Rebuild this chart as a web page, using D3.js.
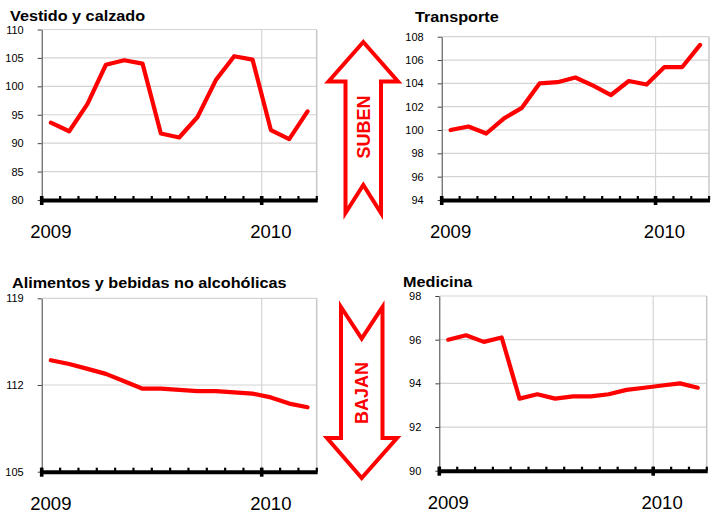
<!DOCTYPE html>
<html>
<head>
<meta charset="utf-8">
<script src="https://d3js.org/d3.v7.min.js"></script>
<style>
  body { margin: 0; background: #fff; }
  svg text { font-family: Arial, "Liberation Sans", sans-serif; }
</style>
</head>
<body>
<script>
// months on every panel, Jan 2009 - Mar 2010
var months = ["2009-01", "2009-02", "2009-03", "2009-04", "2009-05", "2009-06", "2009-07",
              "2009-08", "2009-09", "2009-10", "2009-11", "2009-12", "2010-01", "2010-02", "2010-03"];
var yearStarts = ["2009-01", "2010-01"];
var yearLabels = ["2009", "2010"];

// index values
var vestido    = [93.6, 92.1, 96.9, 103.8, 104.6, 104.0, 91.7, 91.0, 94.6, 101.1, 105.3, 104.7, 92.3, 90.7, 95.6];
var transporte = [100.0, 100.3, 99.7, 101.0, 101.9, 104.0, 104.1, 104.5, 103.8, 103.0, 104.2, 103.9, 105.4, 105.4, 107.3];
var alimentos  = [114.0, 113.7, 113.3, 112.9, 112.3, 111.7, 111.7, 111.6, 111.5, 111.5, 111.4, 111.3, 111.0, 110.5, 110.2];
var medicina   = [96.0, 96.2, 95.9, 96.1, 93.3, 93.5, 93.3, 93.4, 93.4, 93.5, 93.7, 93.8, 93.9, 94.0, 93.8];

// y tick labels
var vestidoTicks    = [80, 85, 90, 95, 100, 105, 110];
var transporteTicks = [94, 96, 98, 100, 102, 104, 106, 108];
var alimentosTicks  = [105, 112, 119];
var medicinaTicks   = [90, 92, 94, 96, 98];

var titles = ["Vestido y calzado", "Transporte", "Alimentos y bebidas no alcohólicas", "Medicina"];
var arrowLabels = ["SUBEN", "BAJAN"];

var svg = d3.select("body").append("svg").attr("width", 711).attr("height", 513);

// panel layout
var panels = [
    {title: titles[0], values: vestido,    ticks: vestidoTicks,    left: 41.7,  right: 316.7, top: 29.5,  bottom: 200,   tx: 10,  ty: 21},
    {title: titles[1], values: transporte, ticks: transporteTicks, left: 441.7, right: 709,   top: 36.7,  bottom: 200,   tx: 415, ty: 22},
    {title: titles[2], values: alimentos,  ticks: alimentosTicks,  left: 41.7,  right: 316.7, top: 298.3, bottom: 471.7, tx: 12,  ty: 288},
    {title: titles[3], values: medicina,   ticks: medicinaTicks,   left: 439.3, right: 706.7, top: 296,   bottom: 470.7, tx: 403, ty: 287}
];

function drawPanel(c) {
    var x = d3.scaleBand().domain(months).range([c.left, c.right]);
    var y = d3.scaleLinear().domain(d3.extent(c.ticks)).range([c.bottom, c.top]);
    var bw = x.bandwidth();
    var g = svg.append("g");

    // grey grid: horizontal lines, year start and right border
    g.selectAll(".hgrid").data(c.ticks.slice(1)).enter().append("line")
        .attr("x1", c.left).attr("x2", c.right)
        .attr("y1", d => y(d)).attr("y2", d => y(d))
        .style("stroke", "#d4d4d4").style("stroke-width", 1.2);
    g.selectAll(".vgrid").data(yearStarts.slice(1)).enter().append("line")
        .attr("x1", d => x(d)).attr("x2", d => x(d))
        .attr("y1", c.top).attr("y2", c.bottom)
        .style("stroke", "#d4d4d4").style("stroke-width", 1.2);
    g.append("line")
        .attr("x1", c.right).attr("x2", c.right).attr("y1", c.top).attr("y2", c.bottom)
        .style("stroke", "#c8c8c8").style("stroke-width", 1.5);

    // left axis
    var ax = g.append("g").attr("transform", "translate(" + c.left + ",0)")
        .call(d3.axisLeft(y).tickValues(c.ticks).tickSize(4).tickSizeOuter(0).tickPadding(14));
    ax.select(".domain").style("stroke", "#404040");
    ax.selectAll(".tick line").style("stroke", "#404040");
    ax.selectAll("text").style("font-size", "11px").style("fill", "#000")
        .style("font-family", "Arial, 'Liberation Sans', sans-serif");

    // bottom axis: thick black line with small ticks at month boundaries
    var bounds = months.map(m => x(m)).concat([c.right]);
    g.selectAll(".minor").data(bounds).enter().append("rect")
        .attr("x", d => d - 1).attr("y", c.bottom - 4)
        .attr("width", 2.2).attr("height", 4)
        .style("fill", "#000");
    g.selectAll(".major").data(yearStarts).enter().append("rect")
        .attr("x", d => x(d) - 1.8).attr("y", c.bottom - 4)
        .attr("width", 3.6).attr("height", 9)
        .style("fill", "#000");
    g.append("line")
        .attr("x1", c.left - 1).attr("x2", c.right + 1)
        .attr("y1", c.bottom + 0.5).attr("y2", c.bottom + 0.5)
        .style("stroke", "#000").style("stroke-width", 4);

    // year labels
    g.selectAll(".year").data(yearStarts).enter().append("text")
        .attr("x", d => x(d) + bw / 2).attr("y", c.bottom + 38)
        .attr("text-anchor", "middle")
        .style("font-size", "18.5px").style("fill", "#000")
        .text((d, i) => yearLabels[i]);

    // series line
    var line = d3.line().x((d, i) => x(months[i]) + bw / 2).y(d => y(d));
    g.append("path").datum(c.values).attr("d", line)
        .style("fill", "none").style("stroke", "#ff0000").style("stroke-width", 4.2)
        .style("stroke-linejoin", "round").style("stroke-linecap", "round");

    // title, a little wider than the plain font like in the source
    g.append("text")
        .attr("transform", "translate(" + c.tx + "," + c.ty + ") scale(1.08,1)")
        .style("font-size", "15px").style("font-weight", "bold").style("fill", "#000")
        .text(c.title);
}

panels.forEach(drawPanel);

// "SUBEN" and "BAJAN" hollow arrows
var upArrow = [[363.3, 42], [398, 81.5], [381, 81.5], [381, 213], [363.3, 185], [345.5, 213], [345.5, 81.5], [328.5, 81.5]];
var downArrow = [[341, 307], [361.7, 338.5], [382.5, 307], [382.5, 438], [397, 438], [361.7, 478], [327, 438], [341, 438]];

[upArrow, downArrow].forEach(function(pts) {
    svg.append("polygon")
        .attr("points", pts.map(pt => pt.join(",")).join(" "))
        .style("fill", "#fff").style("stroke", "#ff0000")
        .style("stroke-width", 4).style("stroke-linejoin", "miter");
});

var arrowText = [[363.3, 127], [362, 393]];
arrowText.forEach(function(pt, i) {
    svg.append("text")
        .attr("transform", "translate(" + pt[0] + "," + pt[1] + ") rotate(-90)")
        .attr("text-anchor", "middle").attr("dy", "0.36em")
        .style("font-size", "18px").style("font-weight", "bold").style("fill", "#ff0000")
        .text(arrowLabels[i]);
});
</script>
</body>
</html>
